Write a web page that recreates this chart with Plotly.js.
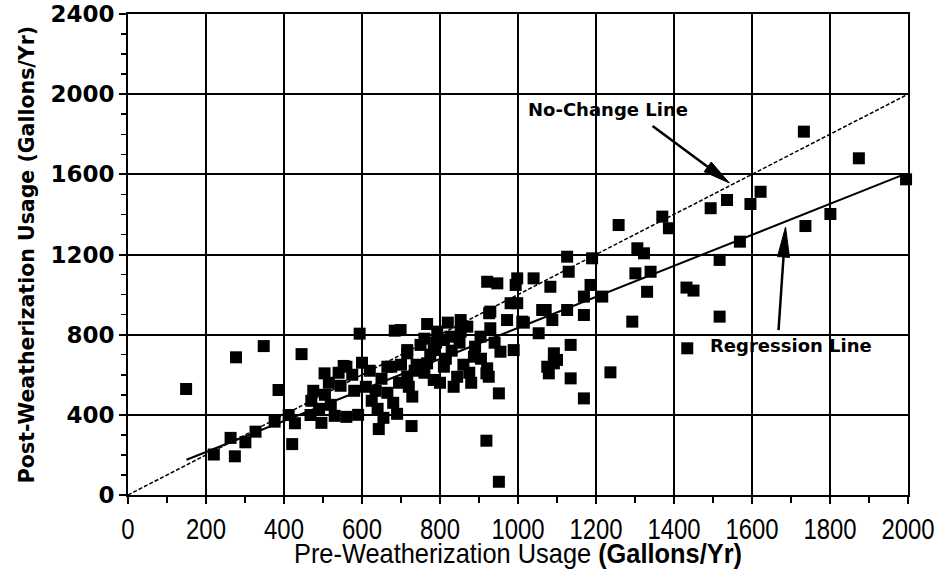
<!DOCTYPE html>
<html>
<head>
<meta charset="utf-8">
<script src="https://cdn.plot.ly/plotly-3.0.1.min.js"></script>
<style>html,body{margin:0;padding:0;background:#fff;}#chart{width:945px;height:569px;}</style>
</head>
<body>
<div id="chart"></div>
<script>
// ---- Data (gallons per year) ----
const preUsage = [
  149,277,348,386,445,504,594,684,220,274,263,301,327,376,412,428,421,468,496,643,727,
  553,475,716,665,
  767,699,853,926,981,1015,1062,1053,1075,1100,919,951,729,951,919,835,810,887,955,989,750,784,716,827,904,929,870,793,767,784,844,921,716,
  1040,998,994,998,921,947,972,1011,929,853,810,925,
  1126,1190,1130,1083,1186,1169,1216,1169,1126,1071,1088,1135,1092,1092,1079,1135,1237,1169,
  1258,1370,1387,1306,1323,1301,1340,1331,1293,1432,1450,1434,
  1733,1874,1995,1622,1536,1494,1596,1801,1737,1569,1517,1517,
  470,490,505,520,530,545,560,575,580,590,610,620,625,640,650,655,665,675,680,690,695,540,600,515,635,700,560,
  720,740,760,775,800,815,830,850,860,875,890,905,760,820,880,940,735,790
];
const postUsage = [
  529,687,743,524,703,607,805,820,202,193,285,263,316,366,399,358,254,399,360,329,344,
  644,520,723,640,
  853,823,873,907,957,860,923,807,640,674,271,66,491,507,607,540,640,690,715,723,749,723,590,790,790,832,840,815,657,574,590,632,707,
  1081,1081,1048,957,1064,1056,873,865,915,815,773,590,
  1189,1181,1114,1039,1048,990,990,898,923,923,873,749,707,657,607,582,612,482,
  1347,1389,1331,1231,1206,1106,1114,1014,865,1035,1020,732,
  1813,1680,1575,1513,1472,1431,1452,1402,1342,1264,1173,890,
  470,430,500,450,395,545,390,600,520,400,540,620,470,430,580,385,510,640,460,405,560,610,660,560,520,650,640,
  540,650,610,700,560,680,720,760,650,610,740,680,780,860,560,760,620,760
];
// line endpoints
const noChangeX = [0, 2000];
const noChangeY = [0, 2000];
const regressionX = [150, 1990];
const regressionY = [176, 1600];
// tick labels
const xTickVals = [0,200,400,600,800,1000,1200,1400,1600,1800,2000];
const yTickVals = [0,400,800,1200,1600,2000,2400];
const xTitle = 'Pre-Weatherization Usage <b>(Gallons/Yr)</b>';
const yTitle = 'Post-Weatherization Usage (Gallons/Yr)';

// ---- layout helpers (annotation arrows) ----
const XR = [0, 2000], YR = [0, 2400];
const PW = 780, PH = 481;
const sx = PW / (XR[1]-XR[0]), sy = PH / (YR[1]-YR[0]);
function arrowShapes(tail, tip, headLen, headW, lw) {
  const tx = tail[0]*sx, ty = -tail[1]*sy, px = tip[0]*sx, py = -tip[1]*sy;
  const dx = px-tx, dy = py-ty, d = Math.hypot(dx,dy);
  const ux = dx/d, uy = dy/d;
  const bx = px - ux*headLen, by = py - uy*headLen;
  const c1x = bx - uy*headW/2, c1y = by + ux*headW/2;
  const c2x = bx + uy*headW/2, c2y = by - ux*headW/2;
  const toD = (x,y) => [x/sx, -y/sy];
  const B = toD(bx + ux*2, by + uy*2), C1 = toD(c1x,c1y), C2 = toD(c2x,c2y);
  return [
    {type:'line', xref:'x', yref:'y', x0:tail[0], y0:tail[1], x1:B[0], y1:B[1],
     line:{color:'black', width:lw}},
    {type:'path', xref:'x', yref:'y',
     path:`M${tip[0]},${tip[1]} L${C1[0]},${C1[1]} L${C2[0]},${C2[1]} Z`,
     fillcolor:'black', line:{color:'black', width:1}}
  ];
}

const sans = '"Liberation Sans", Arial, sans-serif';
const wide = '"DejaVu Sans", Verdana, sans-serif';

const traces = [
  {x: noChangeX, y: noChangeY, type:'scatter', mode:'lines',
   line:{color:'black', width:1.5, dash:'4px,2px'}, hoverinfo:'skip', showlegend:false},
  {x: regressionX, y: regressionY, type:'scatter', mode:'lines',
   line:{color:'black', width:2}, hoverinfo:'skip', showlegend:false},
  {x: preUsage, y: postUsage, type:'scatter', mode:'markers', cliponaxis:false,
   marker:{symbol:'square', size:12, color:'black', line:{width:0}}, showlegend:false}
];

const axisCommon = {
  showgrid:true, gridcolor:'black', gridwidth:2,
  showline:true, linecolor:'black', linewidth:2, mirror:true,
  zeroline:false, ticks:'outside', ticklen:7, tickwidth:2, tickcolor:'black',
  tickmode:'array', automargin:false
};

const layout = {
  width:945, height:569,
  margin:{l:128, r:37, t:14, b:74},
  paper_bgcolor:'white', plot_bgcolor:'white',
  showlegend:false,
  xaxis: Object.assign({}, axisCommon, {
    range:XR, tickvals:xTickVals, ticktext:xTickVals.map(String),
    tickfont:{family:sans, size:29, color:'black'},
    minor:{tickvals:[100,300,500,700,900,1100,1300,1500,1700,1900], ticks:'outside', ticklen:6, tickwidth:1.5, tickcolor:'black', showgrid:false},
    title:{text:xTitle, font:{family:sans, size:28, color:'black'}, standoff:0}
  }),
  yaxis: Object.assign({}, axisCommon, {
    range:YR, tickvals:yTickVals, ticktext:yTickVals.map(String),
    tickfont:{family:wide, size:23, color:'black', weight:'bold'},
    minor:{tickvals:[100,200,300,500,600,700,900,1000,1100,1300,1400,1500,1700,1800,1900,2100,2200,2300], ticks:'outside', ticklen:5, tickwidth:1.5, tickcolor:'black', showgrid:false},
    title:{text:yTitle, font:{family:wide, size:20.5, color:'black', weight:'bold'}, standoff:10}
  }),
  shapes: [].concat(
    arrowShapes([1345,1841],[1542,1557], 27, 12, 2.5),
    arrowShapes([1668,823],[1686,1337], 30, 12, 2.5)
  ),
  annotations: [
    {x:1232, y:1925, xref:'x', yref:'y', text:'No-Change Line', showarrow:false,
     xanchor:'center', yanchor:'middle', font:{family:wide, size:18, color:'black', weight:'bold'}},
    {x:1699, y:746, xref:'x', yref:'y', text:'Regression Line', showarrow:false,
     xanchor:'center', yanchor:'middle', font:{family:wide, size:18, color:'black', weight:'bold'}}
  ]
};

// condense text horizontally (the reference uses a narrow typeface)
function condense(el, target) {
  el.setAttribute('textLength', String(target));
  el.setAttribute('lengthAdjust', 'spacingAndGlyphs');
}

Plotly.newPlot('chart', traces, layout, {staticPlot:true, displayModeBar:false}).then(gd => {
  gd.querySelectorAll('.xtick text').forEach(t => condense(t, t.textContent.length * 13.3));
  const xt = gd.querySelector('.g-xtitle text');
  if (xt) condense(xt, 448);
});
</script>
</body>
</html>
